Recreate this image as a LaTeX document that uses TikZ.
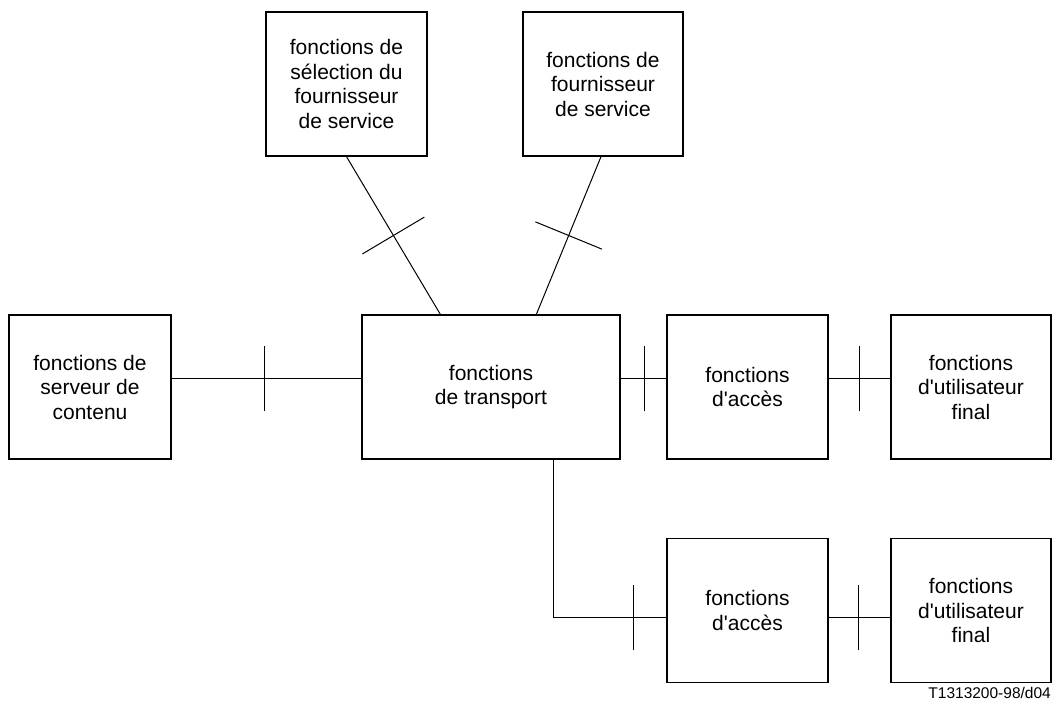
\documentclass[tikz,border=0pt]{standalone}
\usepackage{fontspec}
\setmainfont{Liberation Sans}[Ligatures=TeXOff]
\usetikzlibrary{decorations.markings}
\begin{document}
\begin{tikzpicture}[x=1pt,y=-1pt,
  fbox/.style={draw, line width=1.3pt, inner sep=0pt, align=center,
    font=\fontsize{21}{24.5}\selectfont, minimum height=144pt},
  link/.style={line width=1pt},
  barred/.style={postaction={decorate, decoration={markings,
    mark=at position #1 with {\draw[line width=1pt] (0,-32.5pt) -- (0,32.5pt);}}}},
  slantbarred/.style={postaction={decorate, decoration={markings,
    mark=at position 0.5 with {\draw[line width=1pt] (0,-36pt) -- (0,36pt);}}}}
]
\useasboundingbox (0,0) rectangle (1053,704);

% functional blocks
\node[fbox, minimum width=161pt] (sel) at (346.5,84) {fonctions de\\sélection du\\fournisseur\\de service};
\node[fbox, minimum width=160pt] (fsp) at (603,84) {fonctions de\\fournisseur\\de service};
\node[fbox, minimum width=162pt] (srv) at (90,387) {fonctions de\\serveur de\\contenu};
\node[fbox, minimum width=258pt] (trp) at (491,387) {fonctions\\de transport};
\node[fbox, minimum width=161pt] (acc1) at (747.5,387) {fonctions\\d'accès};
\node[fbox, minimum width=160pt] (usr1) at (971,387) {fonctions\\d'utilisateur\\final};
\node[fbox, minimum width=161pt] (acc2) at (747.5,610.5) {fonctions\\d'accès};
\node[fbox, minimum width=160pt] (usr2) at (971,610.5) {fonctions\\d'utilisateur\\final};

% reference points of the interfaces
\coordinate (tA) at ([xshift=79pt]trp.north west);
\coordinate (tB) at ([xshift=175pt]trp.north west);
\coordinate (tC) at ([xshift=192pt]trp.south west);
\coordinate (bend) at (tC |- 0,617);

% interfaces
\draw[link, slantbarred] (sel.south) -- (tA);
\draw[link, slantbarred] ([xshift=-2pt]fsp.south) -- (tB);
\draw[link, barred=0.49] ([yshift=9pt]srv.east) -- ([yshift=9pt]trp.west);
\draw[link, barred=0.52] ([yshift=9pt]trp.east) -- ([yshift=9pt]acc1.west);
\draw[link, barred=0.5] ([yshift=9pt]acc1.east) -- ([yshift=9pt]usr1.west);
\draw[link, barred=-33pt] (tC) -- (bend) -- (acc2.west |- bend);
\draw[link, barred=0.48] (acc2.east |- bend) -- (usr2.west |- bend);

% drawing reference
\node[anchor=base east, inner sep=0pt, font=\fontsize{15.5}{18}\selectfont] (ref) at (1051,698) {T1313200-98/d04};
\end{tikzpicture}
\end{document}
